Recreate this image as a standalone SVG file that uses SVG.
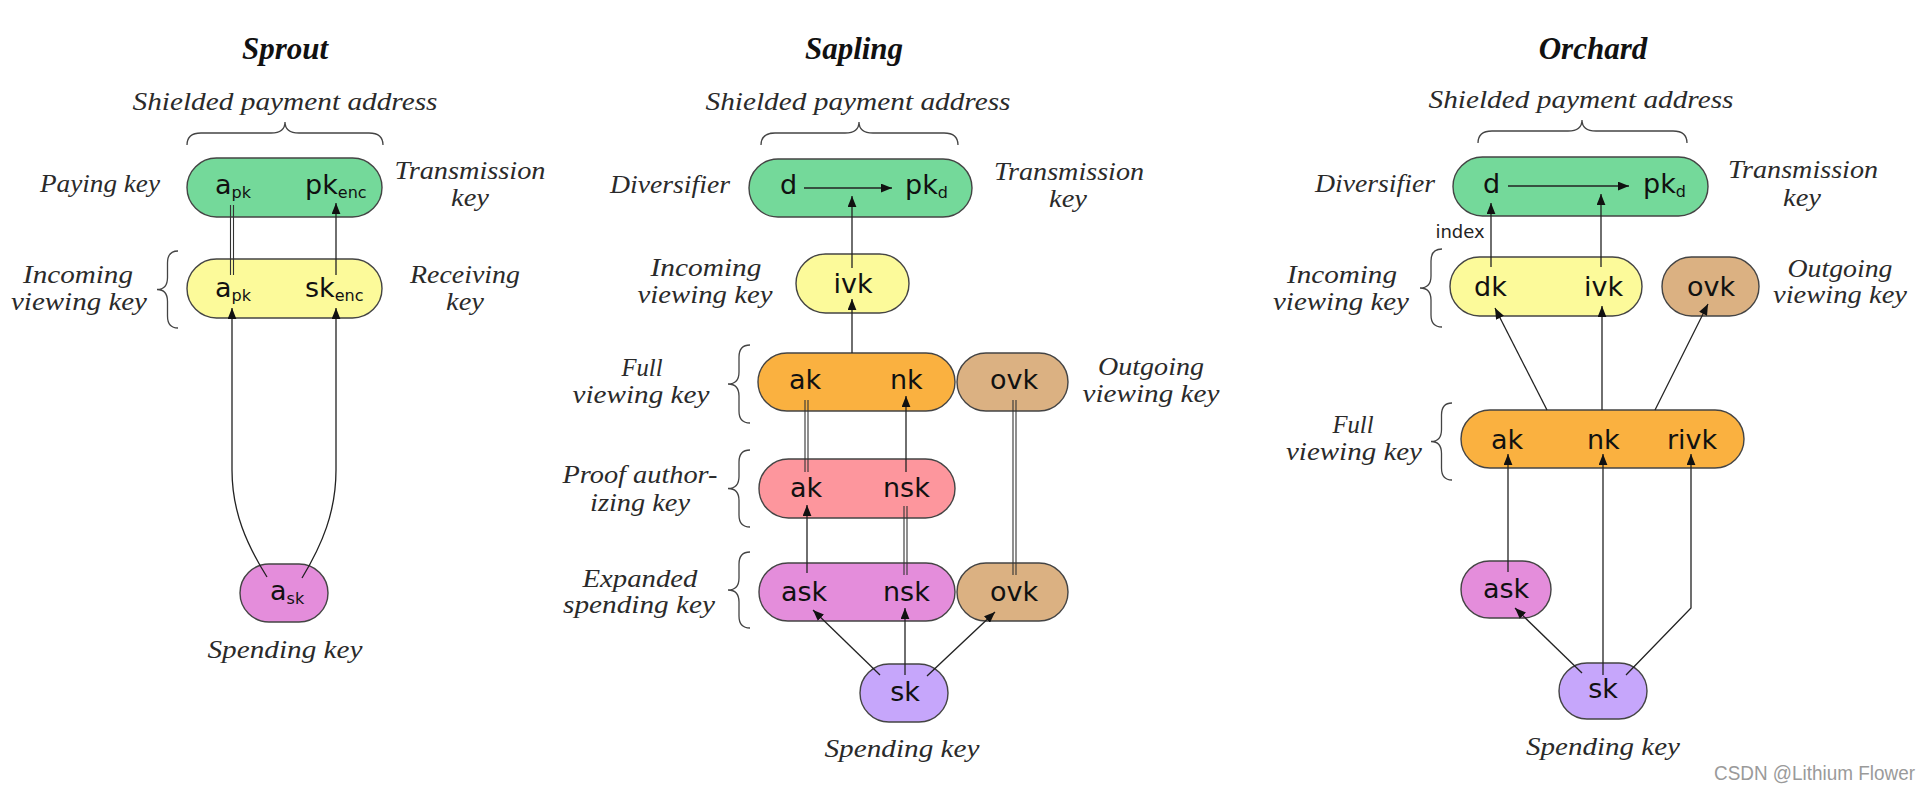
<svg xmlns="http://www.w3.org/2000/svg" width="1929" height="791" viewBox="0 0 1929 791">
<defs>
<style>
.title{font-family:"Liberation Serif",serif;font-style:italic;font-weight:bold;font-size:31px;fill:#111;text-anchor:middle}
.lab{font-family:"Liberation Serif",serif;font-style:italic;font-size:26px;fill:#2a2a2a;text-anchor:middle}
.nt{font-family:"DejaVu Sans",sans-serif;font-size:27px;fill:#111}
.mid{text-anchor:middle}
.sub{font-size:16px}
.small{font-family:"DejaVu Sans",sans-serif;font-size:18px;fill:#222;text-anchor:middle}
.node{stroke:#444;stroke-width:1.4}
.green{fill:#74d99a}.yellow{fill:#fcfa9a}.orange{fill:#fab140}.tan{fill:#dbb182}.pink{fill:#fd969d}.magenta{fill:#e48ddb}.lav{fill:#c6a6fb}
.ln{fill:none;stroke:#222;stroke-width:1.3}
.dbl{fill:none;stroke:#333;stroke-width:1.1}
.brace{fill:none;stroke:#444;stroke-width:1.3}
.wm{font-family:"Liberation Sans",sans-serif;font-size:20px;fill:#9a9a9a}
</style>
<marker id="ah" viewBox="0 0 10 8" refX="10" refY="4" markerWidth="11" markerHeight="9" markerUnits="userSpaceOnUse" orient="auto">
<path d="M0,0 L10,4 L0,8 z" fill="#111"/>
</marker>
</defs>
<rect width="1929" height="791" fill="#fff"/>

<!-- Titles and labels -->
<g id="labels">
<text class="title" x="285" y="59">Sprout</text>
<text class="title" x="854" y="59">Sapling</text>
<text class="title" x="1593" y="59">Orchard</text>

<text class="lab" x="285" y="110" textLength="305" lengthAdjust="spacingAndGlyphs">Shielded payment address</text>
<text class="lab" x="100" y="192" textLength="120" lengthAdjust="spacingAndGlyphs">Paying key</text>
<text class="lab" x="470" y="179" textLength="151" lengthAdjust="spacingAndGlyphs">Transmission</text>
<text class="lab" x="470" y="206" textLength="38" lengthAdjust="spacingAndGlyphs">key</text>
<text class="lab" x="78" y="283" textLength="110" lengthAdjust="spacingAndGlyphs">Incoming</text>
<text class="lab" x="79" y="310" textLength="136" lengthAdjust="spacingAndGlyphs">viewing key</text>
<text class="lab" x="465" y="283" textLength="110" lengthAdjust="spacingAndGlyphs">Receiving</text>
<text class="lab" x="465" y="310" textLength="38" lengthAdjust="spacingAndGlyphs">key</text>
<text class="lab" x="285" y="658" textLength="155" lengthAdjust="spacingAndGlyphs">Spending key</text>

<text class="lab" x="858" y="110" textLength="305" lengthAdjust="spacingAndGlyphs">Shielded payment address</text>
<text class="lab" x="670" y="193" textLength="120" lengthAdjust="spacingAndGlyphs">Diversifier</text>
<text class="lab" x="1069" y="180" textLength="150" lengthAdjust="spacingAndGlyphs">Transmission</text>
<text class="lab" x="1068" y="207" textLength="38" lengthAdjust="spacingAndGlyphs">key</text>
<text class="lab" x="706" y="276" textLength="111" lengthAdjust="spacingAndGlyphs">Incoming</text>
<text class="lab" x="705" y="303" textLength="135" lengthAdjust="spacingAndGlyphs">viewing key</text>
<text class="lab" x="642" y="376" textLength="41" lengthAdjust="spacingAndGlyphs">Full</text>
<text class="lab" x="641" y="403" textLength="137" lengthAdjust="spacingAndGlyphs">viewing key</text>
<text class="lab" x="1151" y="375" textLength="106" lengthAdjust="spacingAndGlyphs">Outgoing</text>
<text class="lab" x="1151" y="402" textLength="137" lengthAdjust="spacingAndGlyphs">viewing key</text>
<text class="lab" x="640" y="483" textLength="155" lengthAdjust="spacingAndGlyphs">Proof author-</text>
<text class="lab" x="640" y="511" textLength="100" lengthAdjust="spacingAndGlyphs">izing key</text>
<text class="lab" x="640" y="587" textLength="115" lengthAdjust="spacingAndGlyphs">Expanded</text>
<text class="lab" x="639" y="613" textLength="152" lengthAdjust="spacingAndGlyphs">spending key</text>
<text class="lab" x="902" y="757" textLength="155" lengthAdjust="spacingAndGlyphs">Spending key</text>

<text class="lab" x="1581" y="108" textLength="305" lengthAdjust="spacingAndGlyphs">Shielded payment address</text>
<text class="lab" x="1375" y="192" textLength="120" lengthAdjust="spacingAndGlyphs">Diversifier</text>
<text class="lab" x="1803" y="178" textLength="150" lengthAdjust="spacingAndGlyphs">Transmission</text>
<text class="lab" x="1802" y="206" textLength="38" lengthAdjust="spacingAndGlyphs">key</text>
<text class="lab" x="1342" y="283" textLength="110" lengthAdjust="spacingAndGlyphs">Incoming</text>
<text class="lab" x="1341" y="310" textLength="136" lengthAdjust="spacingAndGlyphs">viewing key</text>
<text class="lab" x="1840" y="277" textLength="105" lengthAdjust="spacingAndGlyphs">Outgoing</text>
<text class="lab" x="1840" y="303" textLength="134" lengthAdjust="spacingAndGlyphs">viewing key</text>
<text class="lab" x="1353" y="433" textLength="41" lengthAdjust="spacingAndGlyphs">Full</text>
<text class="lab" x="1354" y="460" textLength="136" lengthAdjust="spacingAndGlyphs">viewing key</text>
<text class="lab" x="1603" y="755" textLength="154" lengthAdjust="spacingAndGlyphs">Spending key</text>
<text class="small" x="1460" y="238">index</text>

<text class="wm" x="1714" y="780" textLength="201" lengthAdjust="spacingAndGlyphs">CSDN @Lithium Flower</text>
</g>

<!-- Braces -->
<g id="braces">
<path class="brace" d="M187,145 Q187,133 201,133 L271,133 Q285,133 285,122 Q285,133 299,133 L369,133 Q383,133 383,145"/>
<path class="brace" d="M761,145 Q761,133 775,133 L845,133 Q859,133 859,122 Q859,133 873,133 L944,133 Q958,133 958,145"/>
<path class="brace" d="M1478,143 Q1478,131 1492,131 L1568,131 Q1582,131 1582,120 Q1582,131 1596,131 L1673,131 Q1687,131 1687,143"/>
<path class="brace" d="M178,251 Q167.5,251 167.5,263 L167.5,277.5 Q167.5,289.5 157,289.5 Q167.5,289.5 167.5,301.5 L167.5,316 Q167.5,328 178,328"/>
<path class="brace" d="M750,345 Q739,345 739,357 L739,372 Q739,384 728,384 Q739,384 739,396 L739,411 Q739,423 750,423"/>
<path class="brace" d="M750,450 Q739,450 739,462 L739,476.5 Q739,488.5 728,488.5 Q739,488.5 739,500.5 L739,515 Q739,527 750,527"/>
<path class="brace" d="M750,552 Q739,552 739,564 L739,578 Q739,590 728,590 Q739,590 739,602 L739,616 Q739,628 750,628"/>
<path class="brace" d="M1442,249 Q1431,249 1431,261 L1431,276 Q1431,288 1420,288 Q1431,288 1431,300 L1431,315 Q1431,327 1442,327"/>
<path class="brace" d="M1452,403 Q1441.5,403 1441.5,415 L1441.5,429.5 Q1441.5,441.5 1431,441.5 Q1441.5,441.5 1441.5,453.5 L1441.5,468 Q1441.5,480 1452,480"/>
</g>

<!-- Sprout nodes -->
<g id="sprout-paying">
<rect class="node green" x="187" y="158" width="195" height="59" rx="29.5"/>
<text class="nt" x="215" y="194">a<tspan class="sub" dy="4">pk</tspan></text>
<text class="nt" x="305" y="194">pk<tspan class="sub" dy="4">enc</tspan></text>
</g>
<g id="sprout-ivk">
<rect class="node yellow" x="187" y="259" width="195" height="59" rx="29.5"/>
<text class="nt" x="215" y="297">a<tspan class="sub" dy="4">pk</tspan></text>
<text class="nt" x="305" y="297">sk<tspan class="sub" dy="4">enc</tspan></text>
</g>
<g id="sprout-ask">
<rect class="node magenta" x="240" y="564" width="88" height="58" rx="29"/>
<text class="nt" x="270" y="600">a<tspan class="sub" dy="4">sk</tspan></text>
</g>

<!-- Sapling nodes -->
<g id="sapling-address">
<rect class="node green" x="749" y="159" width="223" height="58" rx="29"/>
<text class="nt" x="780" y="194">d</text>
<text class="nt" x="905" y="194">pk<tspan class="sub" dy="4">d</tspan></text>
</g>
<g id="sapling-ivk">
<rect class="node yellow" x="796" y="254" width="113" height="59" rx="29.5"/>
<text class="nt mid" x="853" y="293">ivk</text>
</g>
<g id="sapling-fvk">
<rect class="node orange" x="758" y="353" width="197" height="58" rx="29"/>
<text class="nt" x="789" y="389">ak</text>
<text class="nt" x="890" y="389">nk</text>
</g>
<g id="sapling-ovk1">
<rect class="node tan" x="957" y="353" width="111" height="58" rx="29"/>
<text class="nt mid" x="1014" y="389">ovk</text>
</g>
<g id="sapling-pak">
<rect class="node pink" x="759" y="459" width="196" height="59" rx="29.5"/>
<text class="nt" x="790" y="497">ak</text>
<text class="nt" x="883" y="497">nsk</text>
</g>
<g id="sapling-esk">
<rect class="node magenta" x="759" y="563" width="196" height="58" rx="29"/>
<text class="nt" x="781" y="601">ask</text>
<text class="nt" x="883" y="601">nsk</text>
</g>
<g id="sapling-ovk2">
<rect class="node tan" x="957" y="563" width="111" height="58" rx="29"/>
<text class="nt mid" x="1014" y="601">ovk</text>
</g>
<g id="sapling-sk">
<rect class="node lav" x="860" y="664" width="88" height="58" rx="29"/>
<text class="nt mid" x="905" y="701">sk</text>
</g>

<!-- Orchard nodes -->
<g id="orchard-address">
<rect class="node green" x="1453" y="157" width="255" height="59" rx="29.5"/>
<text class="nt" x="1483" y="193">d</text>
<text class="nt" x="1643" y="193">pk<tspan class="sub" dy="4">d</tspan></text>
</g>
<g id="orchard-ivk">
<rect class="node yellow" x="1450" y="257" width="192" height="59" rx="29.5"/>
<text class="nt" x="1474" y="296">dk</text>
<text class="nt" x="1584" y="296">ivk</text>
</g>
<g id="orchard-ovk">
<rect class="node tan" x="1662" y="257" width="97" height="59" rx="29.5"/>
<text class="nt mid" x="1711" y="296">ovk</text>
</g>
<g id="orchard-fvk">
<rect class="node orange" x="1461" y="410" width="283" height="58" rx="29"/>
<text class="nt" x="1491" y="449">ak</text>
<text class="nt" x="1587" y="449">nk</text>
<text class="nt" x="1667" y="449">rivk</text>
</g>
<g id="orchard-ask">
<rect class="node magenta" x="1461" y="561" width="90" height="57" rx="28.5"/>
<text class="nt mid" x="1506" y="598">ask</text>
</g>
<g id="orchard-sk">
<rect class="node lav" x="1559" y="663" width="88" height="56" rx="28"/>
<text class="nt mid" x="1603" y="698">sk</text>
</g>

<!-- Connectors -->
<g id="connectors">
<!-- Sprout -->
<path class="dbl" d="M230.5,205 V275 M233.5,205 V275"/>
<path class="ln" d="M336,275 V203" marker-end="url(#ah)"/>
<path class="ln" d="M267,577 C247,545 232,512 232,470 L232,308" marker-end="url(#ah)"/>
<path class="ln" d="M302,578 C322,545 336,512 336,470 L336,308" marker-end="url(#ah)"/>
<!-- Sapling -->
<path class="ln" d="M804,188 H892" marker-end="url(#ah)"/>
<path class="ln" d="M852,268 V196" marker-end="url(#ah)"/>
<path class="ln" d="M852,353 V299" marker-end="url(#ah)"/>
<path class="dbl" d="M805,400 V472 M808,400 V472"/>
<path class="ln" d="M906,472 V396" marker-end="url(#ah)"/>
<path class="dbl" d="M1013,400 V575 M1016,400 V575"/>
<path class="ln" d="M807,573 V505" marker-end="url(#ah)"/>
<path class="dbl" d="M904,506 V575 M907,506 V575"/>
<path class="ln" d="M880,675 L813,610" marker-end="url(#ah)"/>
<path class="ln" d="M905,675 V608" marker-end="url(#ah)"/>
<path class="ln" d="M927,676 L995,612" marker-end="url(#ah)"/>
<!-- Orchard -->
<path class="ln" d="M1508,186 H1629" marker-end="url(#ah)"/>
<path class="ln" d="M1491,267 V203" marker-end="url(#ah)"/>
<path class="ln" d="M1601,267 V194" marker-end="url(#ah)"/>
<path class="ln" d="M1547,410 L1495,308" marker-end="url(#ah)"/>
<path class="ln" d="M1602,410 V306" marker-end="url(#ah)"/>
<path class="ln" d="M1655,410 L1708,304" marker-end="url(#ah)"/>
<path class="ln" d="M1508,572 V454" marker-end="url(#ah)"/>
<path class="ln" d="M1603,675 V454" marker-end="url(#ah)"/>
<path class="ln" d="M1626,675 L1691,608 V454" marker-end="url(#ah)"/>
<path class="ln" d="M1582,673 L1515,608" marker-end="url(#ah)"/>
</g>
</svg>
